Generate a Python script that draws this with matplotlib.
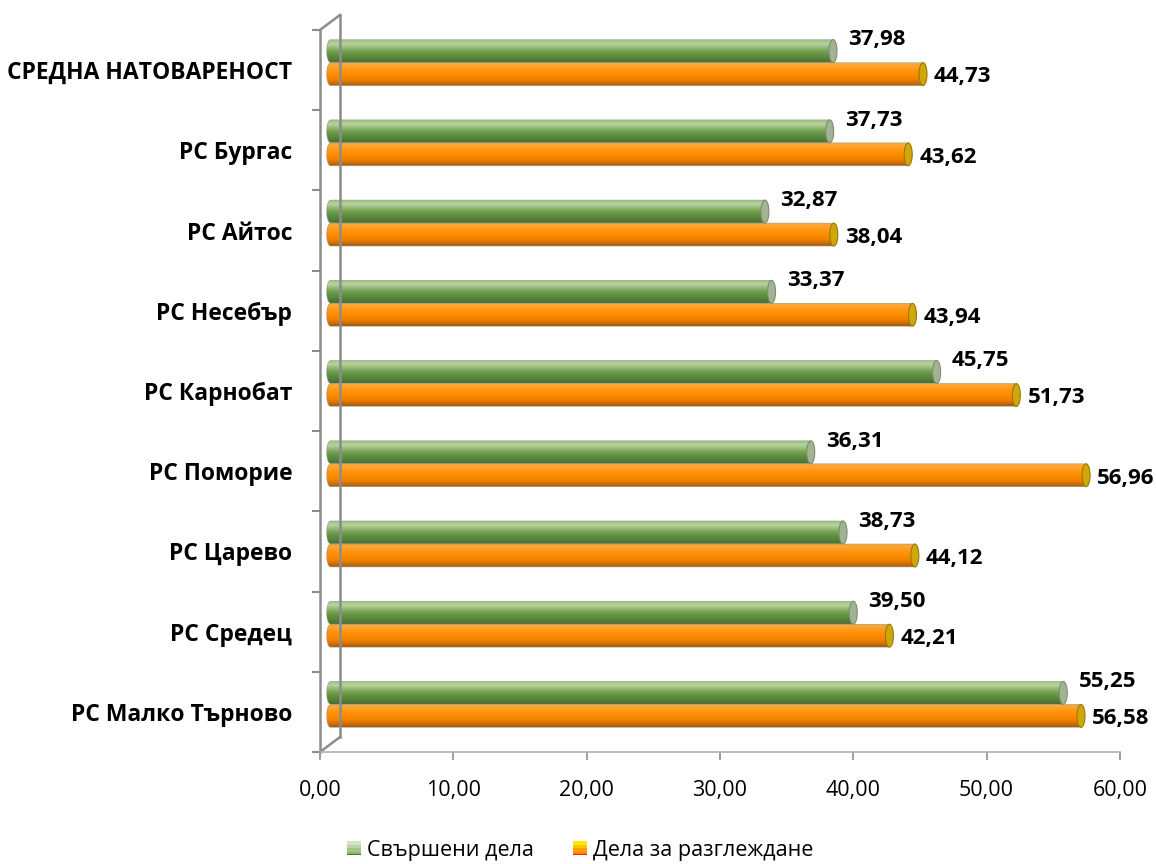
import numpy as np
import matplotlib
matplotlib.use("Agg")
import matplotlib.pyplot as plt
from matplotlib.colors import LinearSegmentedColormap
from matplotlib.patches import Polygon, Ellipse, Rectangle
from matplotlib.legend_handler import HandlerBase

plt.rcParams['font.family'] = ['Open Sans', 'DejaVu Sans']

# data (top to bottom as in the chart)
categories = ['СРЕДНА НАТОВАРЕНОСТ', 'РС Бургас', 'РС Айтос', 'РС Несебър',
              'РС Карнобат', 'РС Поморие', 'РС Царево', 'РС Средец',
              'РС Малко Търново']
done = [37.98, 37.73, 32.87, 33.37, 45.75, 36.31, 38.73, 39.50, 55.25]
pending = [44.73, 43.62, 38.04, 43.94, 51.73, 56.96, 44.12, 42.21, 56.58]
series_names = ['Свършени дела', 'Дела за разглеждане']
xticks = [0, 10, 20, 30, 40, 50, 60]

green_cmap = LinearSegmentedColormap.from_list(
    'g', ['#9fbf83', '#b7d49e', '#94b975', '#6f9f4d', '#5f8f41', '#557f39', '#4a6d33'])
orange_cmap = LinearSegmentedColormap.from_list(
    'o', ['#ffa838', '#ffa22a', '#ff9412', '#ff8c00', '#f28400', '#d97300', '#a65a12'])

fig = plt.figure(figsize=(11.56, 8.64), dpi=100)
ax = fig.add_axes([0.2768, 0.1296, 0.692, 0.8357])

x0 = 0.5      # 3d depth shift of the bars
h = 0.285     # bar thickness
rx = 0.3      # half width of the end ellipses
grad = np.linspace(0, 1, 64).reshape(-1, 1)


def cylinder(yc, val, cmap, cap_face, cap_edge):
    xl = x0 + rx
    xr = x0 + val
    t = np.linspace(np.pi / 2, 3 * np.pi / 2, 40)
    pts = list(zip(xl + rx * np.cos(t), yc - h / 2 * np.sin(t)))
    pts += [(xr, yc + h / 2), (xr, yc - h / 2)]
    body = Polygon(pts, closed=True, facecolor='none', edgecolor='#8a9a80', lw=0.4)
    ax.add_patch(body)
    im = ax.imshow(grad, cmap=cmap, aspect='auto', origin='upper',
                   extent=(x0, xr, yc + h / 2, yc - h / 2), interpolation='bilinear')
    im.set_clip_path(body)
    ax.add_patch(Ellipse((xr, yc), 2 * rx, h, facecolor=cap_face,
                         edgecolor=cap_edge, lw=0.8, zorder=3))


for i, (d, p) in enumerate(zip(done, pending)):
    yg = i - 0.237
    yo = i + 0.05
    cylinder(yg, d, green_cmap, '#a2b394', '#7d8f6e')
    cylinder(yo, p, orange_cmap, '#cfa60c', '#9c7a00')
    ax.annotate(f'{d:.2f}'.replace('.', ','), xy=(x0 + d, yg), xytext=(11, 8),
                textcoords='offset points', ha='left', va='center',
                fontsize=16, fontweight='bold')
    ax.annotate(f'{p:.2f}'.replace('.', ','), xy=(x0 + p, yo), xytext=(8, -2),
                textcoords='offset points', ha='left', va='center',
                fontsize=16, fontweight='bold')

ax.set_xlim(0, 60)
ax.set_ylim(len(categories) - 0.5, -0.5)
ax.set_xticks(xticks)
ax.set_xticklabels([f'{v:.2f}'.replace('.', ',') for v in xticks], fontsize=15.5)
ax.set_yticks(range(len(categories)))
ax.set_yticklabels(categories, fontsize=16.5, fontweight='bold')
ax.set_yticks(np.arange(-0.5, len(categories)), minor=True)
ax.tick_params(axis='y', which='major', length=0, pad=20)
ax.tick_params(axis='y', which='minor', length=6, width=1.5, color='#8c8c8c')
ax.tick_params(axis='x', length=6, width=1.2, color='#8c8c8c', pad=14)

for s in ['top', 'right']:
    ax.spines[s].set_visible(False)
ax.spines['left'].set_color('#8c8c8c')
ax.spines['left'].set_linewidth(1.8)
ax.spines['bottom'].set_color('#b0b0b0')
ax.spines['bottom'].set_linewidth(1.2)

# 3d walls
dx, dy = 20 / 800, 15 / 722
wall = dict(transform=ax.transAxes, clip_on=False, color='#8c8c8c', lw=1.8)
ax.plot([0, dx], [1, 1 + dy], **wall)
ax.plot([dx, dx], [dy, 1 + dy], **wall)
ax.plot([0, dx], [0, dy], **wall)


class GradSquare(HandlerBase):
    def __init__(self, colors, base):
        super().__init__()
        self.colors = colors
        self.base = base

    def create_artists(self, legend, orig_handle, xdescent, ydescent, width,
                       height, fontsize, trans):
        size = height
        n = len(self.colors)
        arts = []
        for k, c in enumerate(self.colors):
            arts.append(Rectangle((-xdescent, -ydescent + size * (n - 1 - k) / n),
                                  size, size / n, facecolor=c, edgecolor='none',
                                  transform=trans))
        arts.append(Rectangle((-xdescent, -ydescent), size, size * 0.1,
                              facecolor=self.base, edgecolor='none', transform=trans))
        return arts


h1 = Rectangle((0, 0), 1, 1)
h2 = Rectangle((0, 0), 1, 1, facecolor='orange')
fig.legend([h1, h2], series_names, loc='center', bbox_to_anchor=(0.502, 0.016),
           ncol=2, frameon=False, fontsize=15.5, handlelength=0.65, handleheight=0.65,
           handletextpad=0.3, columnspacing=1.8,
           handler_map={h1: GradSquare(['#d2e2c4', '#bcd3a8', '#a4c48c', '#8fb474'], '#3c7a1e'),
                        h2: GradSquare(['#ffe800', '#ffc400', '#ffa000', '#ff8400'], '#ff2000')})

fig.savefig('out.png', dpi=100)
